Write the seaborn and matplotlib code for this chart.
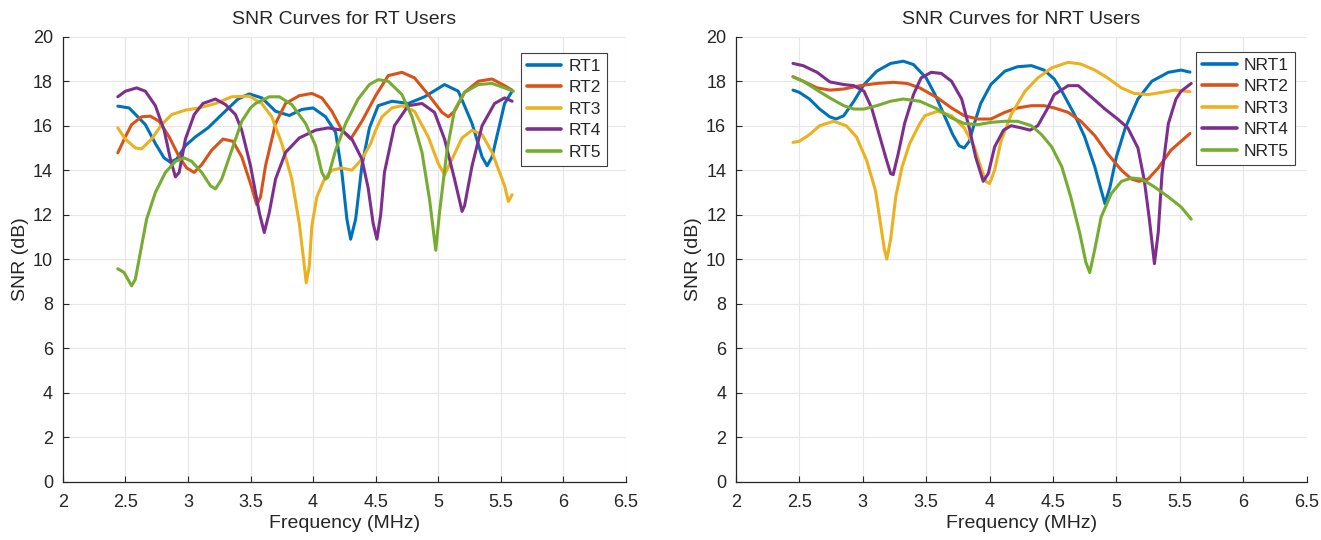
import pandas as pd
import matplotlib
matplotlib.use("Agg")
import matplotlib.pyplot as plt
from matplotlib.ticker import FormatStrFormatter
import seaborn as sns

# estilo tipo MATLAB
sns.set_style("whitegrid", {"grid.color": "#e6e6e6", "axes.edgecolor": "#262626"})
plt.rcParams["font.family"] = ["Liberation Sans", "DejaVu Sans"]

COLORS = ["#0072BD", "#D95319", "#EDB120", "#7E2F8E", "#77AC30"]

# ---- RT users ----
RT1_X = [2.44, 2.53, 2.66, 2.74, 2.81, 2.86, 2.91, 2.98, 3.06, 3.16, 3.27, 3.40, 3.49, 3.59, 3.70,
         3.81, 3.91, 4.00, 4.10, 4.18, 4.23, 4.27, 4.30, 4.34, 4.39, 4.45, 4.52, 4.63, 4.76, 4.89,
         5.05, 5.16, 5.27, 5.35, 5.39, 5.43, 5.53, 5.59]
RT1_Y = [16.88, 16.8, 16.05, 15.2, 14.55, 14.36, 14.5, 15.1, 15.5, 15.9, 16.5, 17.2, 17.43, 17.25, 16.65,
         16.46, 16.73, 16.8, 16.4, 15.7, 13.9, 11.8, 10.9, 11.8, 14.2, 15.9, 16.9, 17.1, 17.0, 17.3,
         17.85, 17.55, 16.1, 14.6, 14.2, 14.6, 17.0, 17.55]

RT2_X = [2.44, 2.50, 2.55, 2.63, 2.70, 2.77, 2.85, 2.93, 2.99, 3.05, 3.11, 3.19, 3.28, 3.36, 3.43,
         3.50, 3.55, 3.58, 3.62, 3.70, 3.78, 3.89, 3.99, 4.07, 4.15, 4.23, 4.30, 4.39, 4.50, 4.60,
         4.71, 4.81, 4.92, 5.03, 5.08, 5.13, 5.21, 5.32, 5.43, 5.53, 5.59]
RT2_Y = [14.78, 15.5, 16.05, 16.4, 16.43, 16.2, 15.5, 14.6, 14.1, 13.9, 14.25, 14.9, 15.4, 15.3, 14.6,
         13.4, 12.45, 12.8, 14.2, 16.1, 17.0, 17.35, 17.45, 17.25, 16.65, 15.8, 15.4, 16.2, 17.35, 18.25,
         18.4, 18.15, 17.4, 16.6, 16.4, 16.65, 17.5, 18.0, 18.1, 17.8, 17.6]

RT3_X = [2.44, 2.50, 2.58, 2.63, 2.71, 2.79, 2.87, 2.98, 3.09, 3.22, 3.35, 3.49, 3.59, 3.67, 3.75,
         3.83, 3.89, 3.93, 3.945, 3.97, 3.99, 4.03, 4.09, 4.15, 4.23, 4.31, 4.39, 4.46, 4.50, 4.55,
         4.63, 4.71, 4.81, 4.92, 5.00, 5.05, 5.11, 5.19, 5.27, 5.35, 5.43, 5.53, 5.56, 5.59]
RT3_Y = [15.9, 15.4, 15.0, 14.96, 15.4, 16.05, 16.5, 16.7, 16.8, 17.0, 17.3, 17.33, 17.0, 16.4, 15.2,
         13.6, 11.6, 9.7, 8.94, 9.7, 11.5, 12.8, 13.6, 14.0, 14.1, 14.0, 14.5, 15.2, 15.8, 16.4,
         16.8, 16.9, 16.65, 15.5, 14.3, 13.8, 14.5, 15.45, 15.8, 15.6, 14.8, 13.3, 12.6, 12.9]

RT4_X = [2.44, 2.50, 2.59, 2.66, 2.74, 2.81, 2.86, 2.90, 2.93, 2.98, 3.05, 3.12, 3.22, 3.30, 3.38,
         3.43, 3.50, 3.57, 3.61, 3.65, 3.70, 3.78, 3.89, 4.02, 4.12, 4.23, 4.31, 4.39, 4.44, 4.48,
         4.51, 4.54, 4.57, 4.65, 4.76, 4.87, 4.97, 5.05, 5.13, 5.19, 5.21, 5.27, 5.35, 5.45, 5.53, 5.59]
RT4_Y = [17.3, 17.55, 17.7, 17.55, 16.9, 15.8, 14.5, 13.7, 13.9, 15.4, 16.5, 17.0, 17.2, 16.95, 16.5,
         15.8, 14.2, 12.1, 11.2, 12.1, 13.6, 14.8, 15.45, 15.8, 15.9, 15.8, 15.4, 14.5, 13.2, 11.6,
         10.9, 12.0, 13.9, 16.0, 16.9, 17.0, 16.6, 15.4, 13.6, 12.15, 12.4, 14.2, 16.0, 17.0, 17.25, 17.1]

RT5_X = [2.44, 2.49, 2.55, 2.58, 2.62, 2.67, 2.74, 2.82, 2.90, 2.97, 3.03, 3.11, 3.18, 3.22, 3.27,
         3.35, 3.43, 3.50, 3.54, 3.65, 3.73, 3.83, 3.94, 4.02, 4.07, 4.10, 4.12, 4.18, 4.26, 4.36,
         4.45, 4.52, 4.60, 4.71, 4.79, 4.87, 4.93, 4.98, 5.01, 5.07, 5.13, 5.21, 5.32, 5.43, 5.53, 5.60]
RT5_Y = [9.57, 9.4, 8.8, 9.1, 10.3, 11.8, 13.0, 13.9, 14.4, 14.55, 14.4, 13.9, 13.3, 13.16, 13.6,
         14.9, 16.2, 16.8, 17.0, 17.3, 17.3, 16.95, 16.1, 15.1, 13.9, 13.6, 13.7, 14.9, 16.1, 17.2,
         17.85, 18.07, 18.0, 17.4, 16.4, 14.8, 12.7, 10.4, 12.1, 14.9, 16.7, 17.5, 17.85, 17.9, 17.7, 17.55]

# ---- NRT users ----
NRT1_X = [2.45, 2.50, 2.58, 2.66, 2.74, 2.79, 2.85, 2.93, 3.01, 3.11, 3.22, 3.32, 3.40, 3.50, 3.57,
          3.64, 3.71, 3.76, 3.80, 3.84, 3.88, 3.93, 4.01, 4.12, 4.22, 4.33, 4.43, 4.51, 4.57, 4.67,
          4.75, 4.83, 4.88, 4.91, 4.95, 5.00, 5.07, 5.17, 5.28, 5.41, 5.51, 5.58]
NRT1_Y = [17.6, 17.5, 17.2, 16.75, 16.4, 16.3, 16.45, 17.1, 17.85, 18.45, 18.8, 18.9, 18.75, 18.15, 17.4,
          16.5, 15.6, 15.1, 15.0, 15.3, 16.1, 17.0, 17.85, 18.45, 18.65, 18.7, 18.5, 18.1, 17.55, 16.5,
          15.5, 14.15, 13.1, 12.5, 13.25, 14.6, 15.9, 17.2, 18.0, 18.4, 18.5, 18.41]

NRT2_X = [2.45, 2.53, 2.64, 2.74, 2.85, 2.98, 3.11, 3.24, 3.35, 3.45, 3.59, 3.70, 3.80, 3.91, 4.01,
          4.12, 4.22, 4.33, 4.43, 4.51, 4.62, 4.72, 4.83, 4.93, 5.04, 5.12, 5.18, 5.25, 5.33, 5.43,
          5.51, 5.58]
NRT2_Y = [18.2, 18.0, 17.7, 17.6, 17.65, 17.8, 17.9, 17.95, 17.9, 17.7, 17.25, 16.8, 16.45, 16.3, 16.3,
          16.6, 16.8, 16.9, 16.9, 16.8, 16.6, 16.2, 15.55, 14.75, 14.0, 13.6, 13.5, 13.6, 14.1, 14.9,
          15.3, 15.65]

NRT3_X = [2.45, 2.50, 2.58, 2.66, 2.77, 2.87, 2.95, 3.03, 3.10, 3.14, 3.17, 3.19, 3.22, 3.26, 3.31,
          3.37, 3.45, 3.49, 3.59, 3.70, 3.80, 3.88, 3.93, 3.97, 4.00, 4.04, 4.09, 4.17, 4.28, 4.38,
          4.49, 4.62, 4.72, 4.83, 4.93, 5.04, 5.14, 5.25, 5.36, 5.46, 5.58]
NRT3_Y = [15.25, 15.3, 15.6, 16.0, 16.2, 16.0, 15.5, 14.45, 13.1, 11.6, 10.45, 10.0, 10.9, 12.8, 14.15,
          15.2, 16.1, 16.45, 16.65, 16.45, 15.9, 15.05, 14.15, 13.5, 13.4, 14.0, 15.3, 16.5, 17.55, 18.15,
          18.6, 18.85, 18.77, 18.5, 18.15, 17.7, 17.45, 17.4, 17.5, 17.6, 17.53]

NRT4_X = [2.45, 2.53, 2.64, 2.74, 2.85, 2.93, 3.01, 3.07, 3.12, 3.18, 3.22, 3.24, 3.28, 3.33, 3.40,
          3.46, 3.54, 3.62, 3.70, 3.78, 3.84, 3.89, 3.95, 3.99, 4.04, 4.11, 4.17, 4.25, 4.32, 4.38,
          4.45, 4.51, 4.62, 4.70, 4.80, 4.91, 5.01, 5.09, 5.17, 5.22, 5.26, 5.30, 5.33, 5.36, 5.41,
          5.47, 5.51, 5.59]
NRT4_Y = [18.8, 18.7, 18.4, 17.97, 17.85, 17.8, 17.55, 16.8, 15.8, 14.6, 13.85, 13.8, 14.75, 16.1, 17.4,
          18.15, 18.4, 18.35, 18.0, 17.2, 15.9, 14.6, 13.5, 13.85, 15.05, 15.8, 16.0, 15.9, 15.8, 16.0,
          16.7, 17.4, 17.8, 17.8, 17.3, 16.75, 16.3, 15.9, 15.0, 13.55, 11.8, 9.8, 11.2, 13.85, 16.1,
          17.2, 17.55, 17.9]

NRT5_X = [2.45, 2.53, 2.64, 2.74, 2.85, 2.93, 3.01, 3.11, 3.22, 3.32, 3.45, 3.59, 3.70, 3.80, 3.91,
          4.01, 4.12, 4.22, 4.33, 4.41, 4.49, 4.57, 4.64, 4.71, 4.76, 4.79, 4.83, 4.88, 4.96, 5.04,
          5.12, 5.20, 5.30, 5.41, 5.51, 5.59]
NRT5_Y = [18.2, 18.0, 17.6, 17.25, 16.9, 16.75, 16.75, 16.9, 17.1, 17.2, 17.1, 16.75, 16.35, 16.1, 16.05,
          16.15, 16.2, 16.2, 16.0, 15.6, 15.05, 14.15, 12.8, 11.2, 9.85, 9.4, 10.45, 11.9, 12.95, 13.5,
          13.65, 13.6, 13.25, 12.8, 12.35, 11.8]

X_TICKS = [2, 2.5, 3, 3.5, 4, 4.5, 5, 5.5, 6, 6.5]
Y_TICKS = list(range(0, 21, 2))


def build_df(series):
    frames = []
    for name, xs, ys in series:
        frames.append(pd.DataFrame({"freq": xs, "snr": ys, "user": name}))
    return pd.concat(frames, ignore_index=True)


def draw_panel(ax, df, title, legend_anchor):
    sns.lineplot(data=df, x="freq", y="snr", hue="user", palette=COLORS,
                 estimator=None, linewidth=2.2, ax=ax)
    ax.set_xlim(2, 6.5)
    ax.set_ylim(0, 20)
    ax.set_xticks(X_TICKS)
    ax.set_yticks(Y_TICKS)
    ax.xaxis.set_major_formatter(FormatStrFormatter("%g"))
    ax.set_title(title, fontsize=14, color="#262626", pad=9)
    ax.set_xlabel("Frequency (MHz)", fontsize=14, color="#262626", labelpad=3)
    ax.set_ylabel("SNR (dB)", fontsize=14, color="#262626", labelpad=3)
    ax.tick_params(axis="both", direction="in", length=4, width=0.8, labelsize=13,
                   colors="#262626", bottom=True, left=True)
    ax.tick_params(axis="x", pad=9)
    ax.tick_params(axis="y", pad=7)
    ax.spines["top"].set_visible(False)
    ax.spines["right"].set_visible(False)
    for s in ("left", "bottom"):
        ax.spines[s].set_linewidth(0.9)
    ax.grid(True, color="#e6e6e6", linewidth=0.8)
    handles, labels = ax.get_legend_handles_labels()
    for h in handles:
        h.set_linewidth(2.6)
    leg = ax.legend(handles, labels, loc="upper right", bbox_to_anchor=legend_anchor,
                    borderaxespad=0, fontsize=12.5, frameon=True, fancybox=False,
                    framealpha=1, edgecolor="#404040", handlelength=2.0,
                    handletextpad=0.4, labelspacing=0.36, borderpad=0.35)
    leg.get_frame().set_linewidth(0.8)


fig = plt.figure(figsize=(13.21, 5.4), dpi=100)
ax1 = fig.add_axes([0.0475, 0.108, 0.4264, 0.824])
ax2 = fig.add_axes([0.5571, 0.108, 0.4320, 0.824])

df_rt = build_df([("RT1", RT1_X, RT1_Y), ("RT2", RT2_X, RT2_Y), ("RT3", RT3_X, RT3_Y),
                  ("RT4", RT4_X, RT4_Y), ("RT5", RT5_X, RT5_Y)])
df_nrt = build_df([("NRT1", NRT1_X, NRT1_Y), ("NRT2", NRT2_X, NRT2_Y), ("NRT3", NRT3_X, NRT3_Y),
                   ("NRT4", NRT4_X, NRT4_Y), ("NRT5", NRT5_X, NRT5_Y)])

draw_panel(ax1, df_rt, "SNR Curves for RT Users", (0.966, 0.964))
draw_panel(ax2, df_nrt, "SNR Curves for NRT Users", (0.98, 0.966))

fig.savefig("out.png", dpi=100)
plt.close(fig)
